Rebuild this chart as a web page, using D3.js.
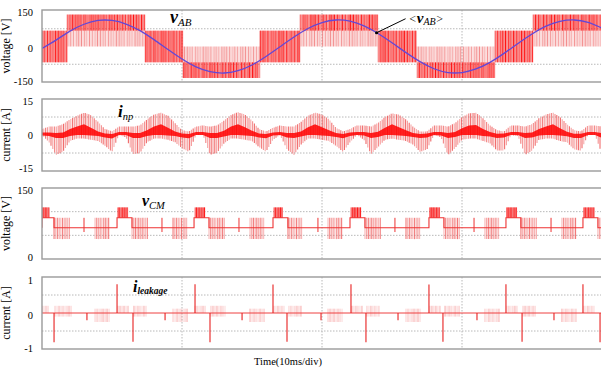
<!DOCTYPE html>
<html>
<head>
<meta charset="utf-8">
<script src="https://cdn.jsdelivr.net/npm/d3@7/dist/d3.min.js"></script>
<style>
html,body{margin:0;padding:0;background:#fff;overflow:hidden}
svg{display:block}
text{font-family:"Liberation Serif","Times New Roman",Times,serif;fill:#000}
</style>
</head>
<body>
<svg id="chart" width="601" height="370"></svg>
<script>
// ===== data (time in ms, 10 ms per division) =====
const timeDomain = [0, 40];
const timeGridLines = [10, 20, 30];
const xAxisTitle = "Time(10ms/div)";

// Panel 1 : vAB (PWM) and its average <vAB>
const vabTicks = [150, 0, -150];
const vabGridLines = [75, -75];
// [t0, t1, lowLevel, highLevel, denseLow, denseHigh]
const vabSegments = [
  [0, 1.79, -67, 67, -67, 67],
  [1.79, 7.36, 0, 135, 67, 135],
  [7.36, 10.07, -67, 67, -67, 67],
  [10.07, 15.57, -133, 0, -133, -67],
  [15.57, 18.43, -67, 67, -67, 67],
  [18.43, 24.0, 0, 135, 67, 135],
  [24.0, 26.79, -67, 67, -67, 67],
  [26.79, 32.36, -133, 0, -133, -67],
  [32.36, 35.07, -67, 67, -67, 67],
  [35.07, 40, 0, 135, 67, 135]
];
const vabRefStep = 1; // ms between samples
const vabRef = [-8, 27, 65, 94, 110, 110, 95, 67, 29, -13, -53, -86, -106, -112, -102, -78, -42, -1, 40, 76,
  101, 112, 107, 87, 55, 16, -26, -64, -94, -110, -110, -95, -67, -29, 13, 53, 86, 106, 112, 102, 78];
const vabMarkerTime = 23.9;

// Panel 2 : inp (sampled envelopes every 0.5 ms)
const inpTicks = [15, 0, -15];
const inpGridLines = [7.5, -7.5];
const inpStep = 0.5;
const inpTop = [2.5,3.5,3.5,4.5,6.5,8,9.3,8.3,5.5,2.5,1.5, 3.5,3.5,3.5,4,6.5,8.5,9.3,8,5,2,1.5,
  3.5,4,3.5,4,6,8.3,9.5,8.5,6,2.5,1.5, 3,4,3.5,3.5,5.5,8,9.3,8.5,6.5,3,1.5,
  2.5,4,4,3.5,5,7.5,9,8.5,6.5,3.5,1.5,1.5, 4,4,3.5,5,7.5,9,9.3,7,4,2,1.5,
  4,4,3.5,4.5,7,8.5,9.3,7.5,4.5,2,1.5, 4,4,3.5];
const inpBottom = [0,-3,-8.3,-7,-2.5,-1.5,-1.5,-2,-2.5,-4.5,-7, 0,-1,-8,-7.5,-3,-1.5,-1.5,-2,-3,-5.5,-7,
  0,0,-8.3,-7.5,-3.5,-1.5,-1.5,-2,-2.5,-5,-7, -2,0,-6,-8.3,-4,-1.5,-1.5,-2,-2.5,-4.5,-7,
  -3,0,-2,-8,-5,-2,-1.5,-2,-2.5,-4,-7,-6, 0,-1,-8.3,-5.5,-2,-1.5,-1.5,-2.5,-3.5,-6.5,-6.5,
  0,-0.5,-8.3,-6.5,-2,-1.5,-1.5,-2.5,-3,-6,-6.5, 0,0,-8];
const inpBandTop = [1,1,0.8,1,2.5,3.5,4.5,3,1.5,0.6,0.4, 1.2,1.2,0.8,0.8,2,3.5,4.5,3,1.5,0.6,0.4,
  1.2,1.2,0.8,0.8,1.8,3.5,4.5,3.2,1.8,0.6,0.4, 1,1.2,0.8,0.8,1.5,3.2,4.5,3.2,2,0.8,0.4,
  1,1.2,1.2,0.8,1.4,3,4.5,3.2,2,0.8,0.4,0.6, 1.2,1.2,0.8,1.2,2.8,4,4.2,2.5,1.2,0.5,0.6,
  1.2,1.2,0.8,1,2.5,3.5,4.5,2.8,1.4,0.5,0.5, 1.2,1.2,0.8];
const inpBandBottom = [-0.2,-0.4,-1.2,-1.2,-0.4,0,0,-0.2,-0.4,-1,-1.5, 0,0,-1.2,-1.2,-0.4,0,0,-0.2,-0.4,-1,-1.4,
  0,0,-1.2,-1.2,-0.6,0,0,-0.2,-0.4,-1,-1.4, -0.2,0,-1,-1.2,-0.6,0,0,-0.2,-0.4,-0.8,-1.4,
  -0.4,0,-0.2,-1.2,-0.8,0,0,-0.2,-0.4,-0.8,-1.2,-1, 0,-0.2,-1.2,-0.8,0,0,0,-0.4,-0.6,-1.2,-1,
  0,0,-1.2,-1,-0.2,0,0,-0.2,-0.5,-1.2,-1.2, 0,0,-1.2];

// Panel 3 : vCM
const vcmTicks = [150, 0];
const vcmGridLines = [100, 50];
const vcmLow = 42, vcmBase = 66, vcmMid = 87, vcmHigh = 109;
const vcmMidRanges = [[0,0.86],[5.36,6.43],[10.86,11.93],[16.5,17.57],[22.0,23.07],[27.64,28.71],[33.14,34.21],[38.64,39.71]];
const vcmBlocks = [[0,0.57],[5.43,6.14],[10.93,11.64],[16.57,17.21],[22.07,22.79],[27.71,28.43],[33.21,33.93],[38.71,39.5]];
const vcmPulseRanges = [[0.86,2.0],[3.79,4.86],[6.43,7.57],[9.36,10.43],[11.93,13.07],[14.86,15.93],[17.57,18.64],
  [20.43,21.5],[23.07,24.21],[26.0,27.07],[28.71,29.86],[31.64,32.71],[34.21,35.36],[37.14,38.21],[39.71,40]];
const vcmSpikes = [3.0,8.57,14.07,19.71,25.21,30.86,36.36];

// Panel 4 : ileakage
const leakTicks = [1, 0, -1];
const leakGridLines = [0.5, -0.5];
const leakPosSpikes = [[5.36,0.8],[10.93,0.8],[16.5,0.79],[22.07,0.8],[27.64,0.79],[33.14,0.8],[38.64,0.8]];
const leakNegSpikes = [[0.86,-0.81],[6.5,-0.8],[12.0,-0.81],[17.5,-0.8],[23.14,-0.81],[28.64,-0.8],[34.29,-0.8],[39.86,-0.81]];
const leakClusters = [[0,0.57,0,0.2],[0.93,2.14,-0.1,0.2],[3.79,4.86,-0.25,0.12],
  [5.43,6.21,0,0.2],[6.57,7.57,-0.1,0.2],[9.36,10.43,-0.25,0.12],
  [10.93,11.71,0,0.2],[12.07,13.14,-0.1,0.2],[14.86,15.93,-0.25,0.12],
  [16.57,17.36,0,0.2],[17.64,18.64,-0.1,0.2],[20.43,21.5,-0.25,0.12],
  [22.14,22.93,0,0.2],[23.21,24.21,-0.1,0.2],[26.0,27.07,-0.25,0.12],
  [27.71,28.5,0,0.2],[28.79,29.86,-0.1,0.2],[31.64,32.71,-0.25,0.12],
  [33.21,34.0,0,0.2],[34.36,35.36,-0.1,0.2],[37.14,38.21,-0.25,0.12],
  [38.71,39.5,0,0.2]];
const leakSmallTicks = [[3.21,-0.2],[8.79,-0.2],[14.29,-0.2],[19.93,-0.2],[25.43,-0.2],[31.07,-0.2],[36.57,-0.2]];

// ===== rendering =====
const shade = [0.95,0.35,0.75,0.5,0.25,0.85,0.4,0.65,0.3,0.55,0.9,0.45];
const svg = d3.select("#chart");
const x = d3.scaleLinear().domain(timeDomain).range([42, 602]);

const panels = [
  {frame:[10,82],  domain:[-150,150], range:[82,11],  ticks:vabTicks,  grid:vabGridLines,  title:"voltage [V]", tdy:[2.5,3,0.5]},
  {frame:[99,171], domain:[-15,15],   range:[171,99], ticks:inpTicks,  grid:inpGridLines,  title:"current [A]", tdy:[4,1.5,-1]},
  {frame:[188,259],domain:[0,150],    range:[259,188],ticks:vcmTicks,  grid:vcmGridLines,  title:"voltage [V]", tdy:[3.5,0]},
  {frame:[277,349],domain:[-1,1],     range:[349,277],ticks:leakTicks, grid:leakGridLines, title:"current [A]", tdy:[5,3.5,1]}
];
panels.forEach(p=>{ p.y = d3.scaleLinear().domain(p.domain).range(p.range); });

const defs = svg.append("defs");
panels.forEach((p,i)=>{
  defs.append("clipPath").attr("id","clip"+i).append("rect")
    .attr("x",42).attr("y",p.frame[0]).attr("width",560).attr("height",p.frame[1]-p.frame[0]);
});

// grids, tick labels, titles
panels.forEach(p=>{
  const g = svg.append("g");
  g.selectAll(null).data(p.grid).enter().append("line")
    .attr("x1",42).attr("x2",602).attr("y1",d=>p.y(d)).attr("y2",d=>p.y(d))
    .attr("stroke","#b8b8b8").attr("stroke-width",1).attr("stroke-dasharray","1.5,1.5");
  g.selectAll(null).data(timeGridLines).enter().append("line")
    .attr("x1",d=>x(d)).attr("x2",d=>x(d)).attr("y1",p.frame[0]).attr("y2",p.frame[1])
    .attr("stroke","#b8b8b8").attr("stroke-width",1).attr("stroke-dasharray","1.5,1.5");
  g.selectAll(null).data(p.ticks).enter().append("text")
    .attr("x",33).attr("y",(d,j)=>p.y(d)+p.tdy[j]).attr("text-anchor","end")
    .attr("dominant-baseline","middle").attr("font-size",10.5).text(d=>d);
  const cy = (p.frame[0]+p.frame[1])/2;
  g.append("text").attr("transform",`translate(10,${cy}) rotate(-90)`)
    .attr("text-anchor","middle").attr("font-size",12).text(p.title);
});

function comb(g, t0, t1, v0, v1, ys, o){
  const xa = x(t0), xb = x(t1);
  const xs = d3.range(xa + (o.offset||0), xb, o.step);
  g.selectAll(null).data(xs).enter().append("line")
    .attr("x1",d=>d).attr("x2",d=>d).attr("y1",ys(v0)).attr("y2",ys(v1))
    .attr("stroke",o.color).attr("stroke-width",o.width||1)
    .attr("stroke-opacity",(d,k)=>o.base + o.amp*shade[(k+(o.phase||0))%shade.length]);
}

// ---- Panel 1 ----
{
  const p = panels[0];
  const g = svg.append("g").attr("clip-path","url(#clip0)");
  vabSegments.forEach((s,i)=>{
    comb(g, s[0], s[1], s[2], s[3], p.y, {step:1.6, color:"#ef6a6a", width:1.1, base:0.25, amp:0.55, phase:i*3});
    comb(g, s[0], s[1], s[4], s[5], p.y, {step:1.6, offset:0.8, color:"#ff0000", width:1, base:0.3, amp:0.7, phase:i*5+2});
  });
  const line = d3.line().x((d,k)=>x(k*vabRefStep)).y(d=>p.y(d)).curve(d3.curveNatural);
  g.append("path").attr("d",line(vabRef)).attr("fill","none")
    .attr("stroke","#6248d8").attr("stroke-width",1.3);
  // annotation <vAB>
  const k = Math.floor(vabMarkerTime/vabRefStep), f = vabMarkerTime/vabRefStep - k;
  const mv = vabRef[k]*(1-f) + vabRef[k+1]*f;
  const mx = x(vabMarkerTime), my = p.y(mv);
  svg.append("line").attr("x1",mx).attr("y1",my).attr("x2",mx+29).attr("y2",my-14)
    .attr("stroke","#000").attr("stroke-width",1);
  svg.append("circle").attr("cx",mx).attr("cy",my).attr("r",1.6).attr("fill","#000");
  const t2 = svg.append("text").attr("x",mx+32).attr("y",my-10);
  t2.append("tspan").attr("font-size",12).attr("font-style","italic").text("<");
  t2.append("tspan").attr("font-size",15).attr("font-weight","bold").attr("font-style","italic").text("v");
  t2.append("tspan").attr("font-size",10).attr("font-style","italic").attr("dy",2).text("AB");
  t2.append("tspan").attr("font-size",12).attr("font-style","italic").attr("dy",-2).text(">");
  const t1 = svg.append("text").attr("x",170).attr("y",23);
  t1.append("tspan").attr("font-size",18).attr("font-weight","bold").attr("font-style","italic").text("v");
  t1.append("tspan").attr("font-size",11).attr("font-style","italic").attr("dy",3).text("AB");
}

// ---- Panel 2 ----
{
  const p = panels[1];
  const g = svg.append("g").attr("clip-path","url(#clip1)");
  const interp = (arr, t) => {
    const kk = t/inpStep, i = Math.min(Math.floor(kk), arr.length-2), f = kk - i;
    return arr[i]*(1-f) + arr[i+1]*f;
  };
  const xs = d3.range(42, 602, 1.8);
  g.selectAll(null).data(xs).enter().append("line")
    .attr("x1",d=>d).attr("x2",d=>d)
    .attr("y1",d=>p.y(interp(inpBottom, x.invert(d))))
    .attr("y2",d=>p.y(interp(inpTop, x.invert(d))))
    .attr("stroke","#ee5050").attr("stroke-width",1.1)
    .attr("stroke-opacity",(d,k)=>0.3+0.6*shade[k%shade.length]);
  const area = d3.area().x((d,k)=>x(k*inpStep)).y0((d,k)=>p.y(inpBandBottom[k])).y1(d=>p.y(d));
  g.append("path").attr("d",area(inpBandTop)).attr("fill","#ff0000").attr("fill-opacity",0.85);
  const t1 = svg.append("text").attr("x",118).attr("y",117);
  t1.append("tspan").attr("font-size",17).attr("font-weight","bold").attr("font-style","italic").text("i");
  t1.append("tspan").attr("font-size",10.5).attr("font-style","italic").attr("dy",3).text("np");
}

// ---- Panel 3 ----
{
  const p = panels[2];
  const g = svg.append("g").attr("clip-path","url(#clip2)");
  vcmPulseRanges.forEach((r,i)=>{
    comb(g, r[0], r[1], vcmLow, vcmMid, p.y, {step:1.7, color:"#ef6565", width:1.1, base:0.3, amp:0.6, phase:i*4});
  });
  vcmBlocks.forEach((r,i)=>{
    g.append("rect").attr("x",x(r[0])).attr("width",x(r[1])-x(r[0]))
      .attr("y",p.y(vcmHigh)).attr("height",p.y(vcmMid)-p.y(vcmHigh)).attr("fill","#f5a0a0");
    comb(g, r[0], r[1], vcmMid, vcmHigh, p.y, {step:1.6, color:"#ff0000", width:1, base:0.35, amp:0.65, phase:i*2});
  });
  vcmSpikes.forEach(t=>{
    g.append("line").attr("x1",x(t)).attr("x2",x(t)).attr("y1",p.y(vcmMid)).attr("y2",p.y(vcmLow+15))
      .attr("stroke","#ee3333").attr("stroke-width",1);
  });
  const pts = [[timeDomain[0], vcmBase]];
  vcmMidRanges.forEach(r=>{ pts.push([r[0],vcmBase],[r[0],vcmMid],[r[1],vcmMid],[r[1],vcmBase]); });
  pts.push([timeDomain[1], vcmBase]);
  g.append("path").attr("d",d3.line().x(d=>x(d[0])).y(d=>p.y(d[1]))(pts))
    .attr("fill","none").attr("stroke","#ee3333").attr("stroke-width",1.1);
  const t1 = svg.append("text").attr("x",142).attr("y",206);
  t1.append("tspan").attr("font-size",16).attr("font-weight","bold").attr("font-style","italic").text("v");
  t1.append("tspan").attr("font-size",10.5).attr("font-style","italic").attr("dy",3).text("CM");
}

// ---- Panel 4 ----
{
  const p = panels[3];
  const g = svg.append("g").attr("clip-path","url(#clip3)");
  leakClusters.forEach((c,i)=>{
    comb(g, c[0], c[1], c[2], c[3], p.y, {step:2, color:"#f06060", width:0.9, base:0.15, amp:0.5, phase:i*3});
  });
  g.append("line").attr("x1",42).attr("x2",602).attr("y1",p.y(0)).attr("y2",p.y(0))
    .attr("stroke","#ee4040").attr("stroke-width",1);
  g.selectAll(null).data(leakPosSpikes.concat(leakNegSpikes, leakSmallTicks)).enter().append("line")
    .attr("x1",d=>x(d[0])).attr("x2",d=>x(d[0])).attr("y1",p.y(0)).attr("y2",d=>p.y(d[1]))
    .attr("stroke","#e82020").attr("stroke-width",1.1);
  const t1 = svg.append("text").attr("x",133).attr("y",292);
  t1.append("tspan").attr("font-size",16).attr("font-weight","bold").attr("font-style","italic").text("i");
  t1.append("tspan").attr("font-size",9.5).attr("font-weight","bold").attr("font-style","italic").attr("dy",2).text("leakage");
}

// frames on top
panels.forEach(p=>{
  svg.append("rect").attr("x",42).attr("y",p.frame[0]).attr("width",562).attr("height",p.frame[1]-p.frame[0])
    .attr("fill","none").attr("stroke","#9a9a9a").attr("stroke-width",1.4);
});

svg.append("text").attr("x",288).attr("y",365).attr("text-anchor","middle").attr("font-size",10.5).text(xAxisTitle);
</script>
</body>
</html>
